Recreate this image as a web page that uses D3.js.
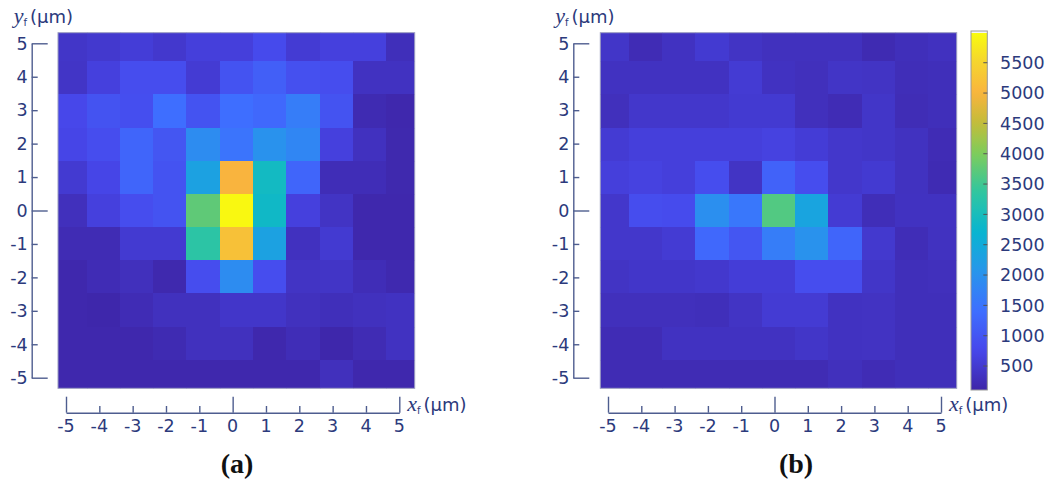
<!DOCTYPE html>
<html>
<head>
<meta charset="utf-8">
<script src="https://cdn.jsdelivr.net/npm/d3@7"></script>
<style>
  body { margin: 0; background: #fff; }
  svg { display: block; }
</style>
</head>
<body>
<div id="chart"></div>
<script>
// axis categories (cell centres, µm)
const xCats = [-5, -4, -3, -2, -1, 0, 1, 2, 3, 4, 5];
const yCats = [5, 4, 3, 2, 1, 0, -1, -2, -3, -4, -5];
const xTickLabels = ["-5", "-4", "-3", "-2", "-1", "0", "1", "2", "3", "4", "5"];
const yTickLabels = ["5", "4", "3", "2", "1", "0", "-1", "-2", "-3", "-4", "-5"];

// counts, rows from y = 5 (top) down to y = -5, columns x = -5 .. 5
const valuesA = [
  [420, 480, 560, 470, 600, 600, 800, 520, 620, 620, 280],
  [400, 620, 850, 850, 520, 950, 1150, 900, 850, 350, 350],
  [750, 950, 880, 1400, 950, 1400, 1300, 1650, 950, 200, 150],
  [720, 850, 1250, 1000, 1900, 1500, 2000, 1800, 620, 330, 160],
  [500, 720, 1250, 950, 2300, 5000, 2900, 1250, 250, 250, 160],
  [300, 620, 850, 950, 3750, 5950, 2850, 620, 380, 150, 150],
  [220, 220, 500, 500, 3300, 5200, 2300, 330, 500, 150, 150],
  [150, 230, 300, 160, 850, 1900, 850, 380, 400, 250, 170],
  [150, 130, 230, 320, 320, 430, 430, 320, 280, 320, 350],
  [150, 150, 150, 200, 320, 320, 150, 250, 130, 220, 350],
  [150, 150, 150, 150, 150, 150, 150, 150, 300, 150, 150]
];
const valuesB = [
  [420, 230, 350, 500, 380, 320, 320, 320, 200, 280, 330],
  [350, 350, 350, 350, 520, 350, 300, 400, 380, 260, 280],
  [300, 450, 450, 450, 500, 500, 300, 230, 420, 240, 280],
  [520, 600, 600, 600, 600, 650, 550, 450, 420, 340, 230],
  [600, 650, 600, 850, 380, 1200, 850, 450, 500, 340, 210],
  [450, 850, 820, 1950, 1550, 3650, 2350, 520, 260, 350, 350],
  [450, 450, 520, 1300, 1000, 1650, 2000, 1250, 480, 250, 340],
  [380, 430, 430, 470, 560, 560, 850, 850, 420, 280, 300],
  [300, 300, 300, 280, 380, 520, 520, 350, 360, 280, 280],
  [230, 230, 350, 350, 350, 350, 420, 350, 360, 280, 280],
  [220, 220, 220, 220, 220, 220, 220, 300, 230, 280, 280]
];

const cbarTicks = [500, 1000, 1500, 2000, 2500, 3000, 3500, 4000, 4500, 5000, 5500];
const cbarDomain = [105, 5990];

const W = 1055, H = 482;
const textColor = "#2c3a7c";
const axisColor = "#4e5d8f";
const sansFont = "'DejaVu Sans', Verdana, sans-serif";

// parula-like colormap
const parulaT = [0, 0.111, 0.222, 0.333, 0.444, 0.556, 0.667, 0.75, 0.832, 0.92, 1];
const parulaC = ["#3e26a8", "#4747eb", "#3e6fff", "#2796eb", "#08b5d0", "#31c69f",
                 "#81cc59", "#c4bc3a", "#f9b43e", "#f5d52e", "#f9fb0e"];
const color = d3.scaleLinear()
  .domain(parulaT.map(t => cbarDomain[0] + t * (cbarDomain[1] - cbarDomain[0])))
  .range(parulaC)
  .interpolate(d3.interpolateRgb)
  .clamp(true);

const svg = d3.select("#chart").append("svg")
  .attr("width", W)
  .attr("height", H);

svg.append("rect").attr("width", W).attr("height", H).attr("fill", "#fff");

const panels = [
  { id: "a", data: valuesA, heat: [58, 414.7], yAxisX: 31.7, xAxis: [66, 399.3], cap: 237 },
  { id: "b", data: valuesB, heat: [600.3, 956.7], yAxisX: 573.3, xAxis: [608, 941], cap: 796 }
];
const heatTop = 32.7, heatBottom = 388.3;
const halfSpan = 5.36;

function drawAxisLabel(g, x, y, letter) {
  const t = g.append("text")
    .attr("x", x)
    .attr("y", y)
    .attr("fill", textColor);
  t.append("tspan")
    .attr("font-family", "'Liberation Serif', serif")
    .attr("font-style", "italic")
    .attr("font-size", 22)
    .text(letter);
  t.append("tspan")
    .attr("font-family", sansFont)
    .attr("font-size", 10)
    .attr("dy", 3)
    .text("f");
  t.append("tspan")
    .attr("font-family", sansFont)
    .attr("font-size", 18)
    .attr("dx", 3)
    .attr("dy", -3)
    .text("(µm)");
}

panels.forEach(p => {
  const g = svg.append("g").attr("class", "panel-" + p.id);

  const x = d3.scaleLinear().domain([-halfSpan, halfSpan]).range(p.heat);
  const y = d3.scaleLinear().domain([-halfSpan, halfSpan]).range([heatBottom, heatTop]);
  const cw = x(1) - x(0), ch = y(0) - y(1);

  const clipId = "clip-" + p.id;
  g.append("clipPath").attr("id", clipId)
    .append("rect")
    .attr("x", p.heat[0]).attr("y", heatTop)
    .attr("width", p.heat[1] - p.heat[0]).attr("height", heatBottom - heatTop);

  const cells = [];
  yCats.forEach((yv, r) => xCats.forEach((xv, c) => cells.push({ x: xv, y: yv, v: p.data[r][c] })));

  g.append("g").attr("clip-path", `url(#${clipId})`)
    .selectAll("rect")
    .data(cells)
    .join("rect")
    .attr("x", d => x(d.x - 0.5))
    .attr("y", d => y(d.y + 0.5))
    .attr("width", cw + 1)
    .attr("height", ch + 1)
    .attr("shape-rendering", "crispEdges")
    .attr("fill", d => color(d.v));

  g.append("rect")
    .attr("x", p.heat[0]).attr("y", heatTop)
    .attr("width", p.heat[1] - p.heat[0]).attr("height", heatBottom - heatTop)
    .attr("fill", "none")
    .attr("stroke", "#9a9cc0")
    .attr("stroke-width", 1);

  // y axis: line on the left with ticks pointing right, labels on the left
  const ya = d3.scaleLinear().domain([-5, 5]).range([377.7, 43.3]);
  const yAxis = g.append("g")
    .attr("transform", `translate(${p.yAxisX},0)`)
    .call(d3.axisRight(ya).tickValues(yCats).tickSize(6).tickSizeOuter(0).tickFormat(""));
  yAxis.selectAll("line").filter(d => d === 5 || d === 0 || d === -5).attr("x2", 16);
  yAxis.select(".domain").attr("stroke", axisColor).attr("stroke-width", 1.4);
  yAxis.selectAll("line").attr("stroke", axisColor).attr("stroke-width", 1.4);

  g.selectAll(".ylab")
    .data(yCats)
    .join("text")
    .attr("class", "ylab")
    .attr("x", p.yAxisX - 4)
    .attr("y", d => ya(d))
    .attr("dy", "0.36em")
    .attr("text-anchor", "end")
    .attr("font-family", sansFont)
    .attr("font-size", 17.5)
    .attr("fill", textColor)
    .text((d, i) => yTickLabels[i]);

  // x axis: line below the map with ticks pointing up
  const xa = d3.scaleLinear().domain([-5, 5]).range(p.xAxis);
  const xAxisY = 412.7;
  const xAxis = g.append("g")
    .attr("transform", `translate(0,${xAxisY})`)
    .call(d3.axisTop(xa).tickValues(xCats).tickSize(6.7).tickSizeOuter(0).tickFormat(""));
  xAxis.selectAll("line").filter(d => d === 5 || d === 0 || d === -5).attr("y2", -16);
  xAxis.select(".domain").attr("stroke", axisColor).attr("stroke-width", 1.4);
  xAxis.selectAll("line").attr("stroke", axisColor).attr("stroke-width", 1.4);

  g.selectAll(".xlab")
    .data(xCats)
    .join("text")
    .attr("class", "xlab")
    .attr("x", d => xa(d))
    .attr("y", 432)
    .attr("text-anchor", "middle")
    .attr("font-family", sansFont)
    .attr("font-size", 17.5)
    .attr("fill", textColor)
    .text((d, i) => xTickLabels[i]);

  drawAxisLabel(g, p.yAxisX - 18, 23, "y");
  drawAxisLabel(g, p.xAxis[1] + 8, 411, "x");

  g.append("text")
    .attr("x", p.cap)
    .attr("y", 473)
    .attr("text-anchor", "middle")
    .attr("font-family", "'Liberation Serif', serif")
    .attr("font-weight", "bold")
    .attr("font-size", 28)
    .attr("fill", "#111")
    .text(`(${p.id})`);
});

// colorbar
const cb = { x: 971, w: 16.3, top: 33, bottom: 390 };
const cs = d3.scaleLinear().domain(cbarDomain).range([cb.bottom, cb.top]);

const grad = svg.append("defs").append("linearGradient")
  .attr("id", "cbar-grad")
  .attr("x1", 0).attr("y1", 1).attr("x2", 0).attr("y2", 0);
grad.selectAll("stop")
  .data(d3.range(0, 1.0001, 0.02))
  .join("stop")
  .attr("offset", t => t)
  .attr("stop-color", t => color(cbarDomain[0] + t * (cbarDomain[1] - cbarDomain[0])));

svg.append("rect")
  .attr("x", cb.x).attr("y", cb.top - 2)
  .attr("width", cb.w).attr("height", cb.bottom - cb.top + 2)
  .attr("fill", "#f4f4f4");
svg.append("rect")
  .attr("x", cb.x).attr("y", cb.top)
  .attr("width", cb.w).attr("height", cb.bottom - cb.top)
  .attr("fill", "url(#cbar-grad)");
svg.append("rect")
  .attr("x", cb.x).attr("y", cb.top - 2)
  .attr("width", cb.w).attr("height", cb.bottom - cb.top + 2)
  .attr("fill", "none")
  .attr("stroke", "#9a9a9a")
  .attr("stroke-width", 1);

svg.selectAll(".cbtick")
  .data(cbarTicks)
  .join("line")
  .attr("class", "cbtick")
  .attr("x1", cb.x + cb.w - 4).attr("x2", cb.x + cb.w)
  .attr("y1", d => cs(d)).attr("y2", d => cs(d))
  .attr("stroke", "#555")
  .attr("stroke-width", 1);

svg.selectAll(".cblab")
  .data(cbarTicks)
  .join("text")
  .attr("class", "cblab")
  .attr("x", 1000)
  .attr("y", d => cs(d))
  .attr("dy", "0.36em")
  .attr("font-family", sansFont)
  .attr("font-size", 17.5)
  .attr("fill", textColor)
  .text(d => d);
</script>
</body>
</html>
